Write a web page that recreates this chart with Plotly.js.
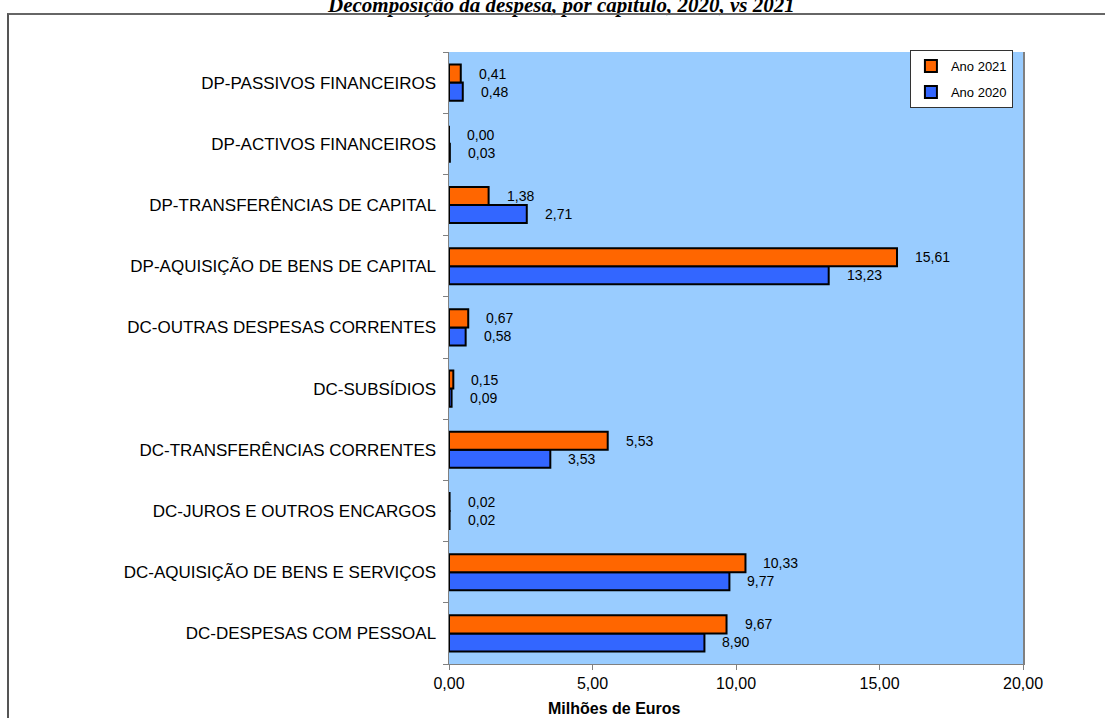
<!DOCTYPE html>
<html>
<head>
<meta charset="utf-8">
<script src="https://cdn.plot.ly/plotly-3.0.1.min.js"></script>
<style>
  html, body { margin: 0; padding: 0; background: #fff; }
  #chart { width: 1105px; height: 718px; position: relative; }
  #frame { position: absolute; left: 7px; top: 13px; width: 1098px; height: 705px;
           border-top: 2px solid #666; border-left: 2px solid #555; pointer-events: none; box-sizing: border-box; }
</style>
</head>
<body>
<div id="chart"></div>
<div id="frame"></div>
<script>
const categories = [
  'DC-DESPESAS COM PESSOAL',
  'DC-AQUISIÇÃO DE BENS E SERVIÇOS',
  'DC-JUROS E OUTROS ENCARGOS',
  'DC-TRANSFERÊNCIAS CORRENTES',
  'DC-SUBSÍDIOS',
  'DC-OUTRAS DESPESAS CORRENTES',
  'DP-AQUISIÇÃO DE BENS DE CAPITAL',
  'DP-TRANSFERÊNCIAS DE CAPITAL',
  'DP-ACTIVOS FINANCEIROS',
  'DP-PASSIVOS FINANCEIROS'
];
const values2021 = [9.67, 10.33, 0.02, 5.53, 0.15, 0.67, 15.61, 1.38, 0.00, 0.41];
const values2020 = [8.90, 9.77, 0.02, 3.53, 0.09, 0.58, 13.23, 2.71, 0.03, 0.48];
const seriesNames = ['Ano 2020', 'Ano 2021'];
const xTicks = [0, 5, 10, 15, 20];

const FONT = 'Arial, "Liberation Sans", sans-serif';
const fmt = v => v.toFixed(2).replace('.', ',');

const traces = [
  { type: 'bar', orientation: 'h', name: seriesNames[0], legendgroup: 'a', legendrank: 2, y: categories, x: values2020,
    marker: { color: '#3366FF', line: { color: '#000', width: 2 } }, hoverinfo: 'x' },
  { type: 'bar', orientation: 'h', name: seriesNames[1], legendgroup: 'b', legendrank: 1, y: categories, x: values2021,
    marker: { color: '#FF6600', line: { color: '#000', width: 2 } }, hoverinfo: 'x' }
];

const annotations = [];
[[values2020, -9], [values2021, 9]].forEach(([vals, dy]) => {
  vals.forEach((v, i) => {
    annotations.push({ xref: 'x', yref: 'y', x: v, y: categories[i], text: fmt(v),
      showarrow: false, xanchor: 'left', yanchor: 'middle', xshift: 16, yshift: dy,
      font: { family: FONT, size: 14, color: '#000' } });
  });
});
annotations.push({ xref: 'paper', yref: 'paper', x: 0.289, y: -0.073, text: '<b>Milhões de Euros</b>',
  showarrow: false, xanchor: 'center', yanchor: 'middle', font: { family: FONT, size: 16, color: '#000' } });

const layout = {
  width: 1105, height: 718,
  margin: { l: 449, r: 82, t: 52, b: 54 },
  paper_bgcolor: '#fff', plot_bgcolor: '#99CCFF',
  separators: ',.',
  barmode: 'group', bargap: 0.41, bargroupgap: 0,
  title: { text: '<b><i>Decomposição da despesa, por capítulo, 2020, vs 2021</i></b>',
    x: 0.508, xref: 'container', xanchor: 'center', y: 0.993, yref: 'container', yanchor: 'middle',
    font: { family: '"Liberation Serif", "Times New Roman", serif', size: 21, color: '#000' } },
  xaxis: { range: [0, 20], tickvals: xTicks, tickformat: '.2f', showgrid: false, zeroline: false,
    showline: true, linecolor: '#808080', linewidth: 1, ticks: 'outside', ticklen: 5, tickcolor: '#808080',
    tickfont: { family: FONT, size: 16, color: '#000' }, fixedrange: true },
  yaxis: { type: 'category', categoryorder: 'array', categoryarray: categories, showgrid: false, zeroline: false,
    showline: true, mirror: true, linecolor: '#808080', linewidth: 1.5, ticks: 'outside', tickson: 'boundaries',
    ticklen: 5, tickcolor: '#808080', ticklabelstandoff: 8,
    tickfont: { family: FONT, size: 17, color: '#000' }, fixedrange: true },
  legend: { x: 0.803, y: 1.003, xanchor: 'left', yanchor: 'top', traceorder: 'grouped', tracegroupgap: 6,
    bgcolor: '#fff', bordercolor: '#333', borderwidth: 1, itemwidth: 30,
    font: { family: FONT, size: 13, color: '#000' } },
  annotations: annotations,
  showlegend: true
};

Plotly.newPlot('chart', traces, layout, { displayModeBar: false, staticPlot: true });
</script>
</body>
</html>
